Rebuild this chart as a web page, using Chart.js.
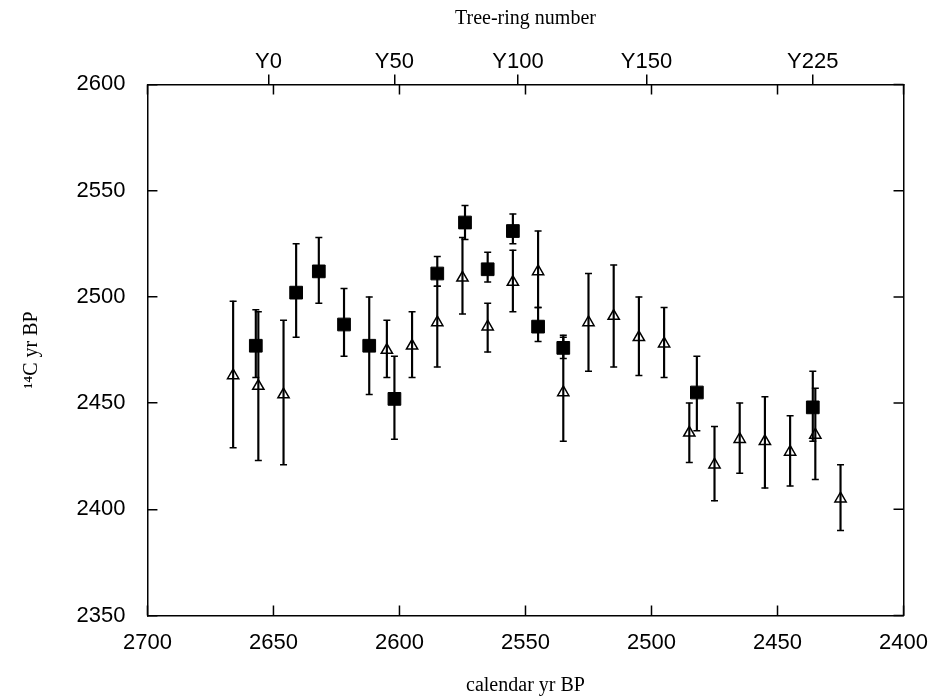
<!DOCTYPE html>
<html>
<head>
<meta charset="utf-8">
<script src="https://cdn.jsdelivr.net/npm/chart.js@4.4.1/dist/chart.umd.min.js"></script>
<style>
  html, body { margin: 0; padding: 0; background: #fff; }
  #wrap { width: 930px; height: 698px; }
</style>
</head>
<body>
<div id="wrap"><canvas id="c14Chart"></canvas></div>
<script>
// filled squares
const squareYears = [2657, 2641, 2632, 2622, 2612, 2602, 2585, 2574, 2565, 2555, 2545, 2535, 2482, 2436];
const squareC14   = [2477, 2502, 2512, 2487, 2477, 2452, 2511, 2535, 2513, 2531, 2486, 2476, 2455, 2448];
const squareLow   = [2462, 2481, 2497, 2472, 2454, 2433, 2505, 2527, 2507, 2525, 2479, 2471, 2437, 2432];
const squareHigh  = [2494, 2525, 2528, 2504, 2500, 2472, 2519, 2543, 2521, 2539, 2495, 2482, 2472, 2465];

// open triangles
const triYears = [2666, 2656, 2646, 2605, 2595, 2585, 2575, 2565, 2555, 2545, 2535, 2525, 2515, 2505, 2495, 2485, 2475, 2465, 2455, 2445, 2435, 2425];
const triC14   = [2463, 2458, 2454, 2475, 2477, 2488, 2509, 2486, 2507, 2512, 2455, 2488, 2491, 2481, 2478, 2436, 2421, 2433, 2432, 2427, 2435, 2405];
const triLow   = [2429, 2423, 2421, 2462, 2462, 2467, 2492, 2474, 2493, 2495, 2432, 2465, 2467, 2463, 2462, 2422, 2404, 2417, 2410, 2411, 2414, 2390];
const triHigh  = [2498, 2493, 2489, 2489, 2493, 2505, 2528, 2497, 2522, 2531, 2481, 2511, 2515, 2500, 2495, 2450, 2439, 2450, 2453, 2444, 2457, 2421];

// top axis: tree-ring numbers and where they sit on the calendar scale
const treeRingLabels = ['Y0', 'Y50', 'Y100', 'Y150', 'Y225'];
const treeRingYears  = [2652, 2602, 2553, 2502, 2436];

const sansFont = { family: '"Liberation Sans", Arial, sans-serif', size: 22 };
const serifFont = { family: '"Liberation Serif", "Times New Roman", serif', size: 20 };

function errorBars(years, low, high) {
  return years.map((x, i) => ({ x: x, y: [low[i], high[i]] }));
}
function errorCaps(years, low, high) {
  return years.flatMap((x, i) => [{ x: x, y: low[i] }, { x: x, y: high[i] }]);
}
function points(years, vals) {
  return years.map((x, i) => ({ x: x, y: vals[i] }));
}

// inward tick marks on the bottom, top and right frame edges
const innerTicks = {
  id: 'innerTicks',
  afterDraw(chart) {
    const ctx = chart.ctx;
    const area = chart.chartArea;
    const xs = chart.scales.x, ys = chart.scales.y;
    ctx.save();
    ctx.strokeStyle = '#000';
    ctx.lineWidth = 1.5;
    ctx.beginPath();
    xs.ticks.forEach(t => {
      const px = xs.getPixelForValue(t.value);
      ctx.moveTo(px, area.top);
      ctx.lineTo(px, area.top + 10);
      ctx.moveTo(px, area.bottom);
      ctx.lineTo(px, area.bottom - 10);
    });
    ys.ticks.forEach(t => {
      const py = ys.getPixelForValue(t.value);
      ctx.moveTo(area.right, py);
      ctx.lineTo(area.right - 10, py);
    });
    ctx.stroke();
    ctx.restore();
  }
};

new Chart(document.getElementById('c14Chart').getContext('2d'), {
  type: 'scatter',
  data: {
    datasets: [
      {
        type: 'scatter',
        data: points(squareYears, squareC14),
        pointStyle: 'rect',
        pointRadius: 9,
        backgroundColor: '#000',
        borderColor: '#000',
        borderWidth: 1,
        order: 0
      },
      {
        type: 'scatter',
        data: points(triYears, triC14),
        pointStyle: 'triangle',
        pointRadius: 6.5,
        backgroundColor: 'rgba(0,0,0,0)',
        borderColor: '#000',
        borderWidth: 1.5,
        order: 1
      },
      {
        type: 'scatter',
        data: errorCaps(squareYears, squareLow, squareHigh).concat(errorCaps(triYears, triLow, triHigh)),
        pointStyle: 'line',
        pointRadius: 3.5,
        borderColor: '#000',
        borderWidth: 1.5,
        order: 2
      },
      {
        type: 'bar',
        data: errorBars(squareYears, squareLow, squareHigh),
        backgroundColor: '#000',
        barThickness: 1.5,
        grouped: false,
        order: 3
      },
      {
        type: 'bar',
        data: errorBars(triYears, triLow, triHigh),
        backgroundColor: '#000',
        barThickness: 1.5,
        grouped: false,
        order: 3
      }
    ]
  },
  options: {
    responsive: true,
    maintainAspectRatio: false,
    animation: false,
    layout: { padding: { left: 16, right: 6, top: 0, bottom: 0 } },
    plugins: {
      legend: { display: false },
      tooltip: { enabled: false }
    },
    scales: {
      x: {
        type: 'linear',
        position: 'bottom',
        reverse: true,
        min: 2400,
        max: 2700,
        offset: false,
        border: { display: true, color: '#000', width: 1.5 },
        // outward marks hidden; the inner ones come from innerTicks
        grid: { offset: false, drawOnChartArea: false, drawTicks: true, tickLength: 12, tickColor: 'rgba(0,0,0,0)' },
        ticks: { stepSize: 50, color: '#000', font: sansFont, padding: 2, maxRotation: 0, callback: v => String(v) },
        title: { display: true, text: 'calendar yr BP', color: '#000', font: serifFont, padding: { top: 16, bottom: 0 } }
      },
      ring: {
        type: 'linear',
        position: 'top',
        reverse: true,
        min: 2400,
        max: 2700,
        offset: false,
        afterBuildTicks: scale => { scale.ticks = treeRingYears.map(v => ({ value: v })); },
        border: { display: true, color: '#000', width: 1.5 },
        grid: { offset: false, drawOnChartArea: false, drawTicks: true, tickLength: 10, color: '#000', lineWidth: 1.5 },
        ticks: { color: '#000', font: sansFont, padding: -1, maxRotation: 0, autoSkip: false, callback: (v, i) => treeRingLabels[i] },
        title: { display: true, text: 'Tree-ring number', color: '#000', font: serifFont, padding: { top: 7, bottom: 19 } }
      },
      y: {
        type: 'linear',
        position: 'left',
        min: 2350,
        max: 2600,
        border: { display: true, color: '#000', width: 1.5 },
        grid: { offset: false, drawOnChartArea: false, drawTicks: true, tickLength: -10, color: '#000', lineWidth: 1.5 },
        ticks: { stepSize: 50, color: '#000', font: sansFont, padding: 32, callback: v => String(v) },
        title: { display: true, text: '¹⁴C yr BP', color: '#000', font: serifFont, padding: { top: 4, bottom: 0.5 } }
      },
      y2: {
        type: 'linear',
        position: 'right',
        min: 2350,
        max: 2600,
        border: { display: true, color: '#000', width: 1.5 },
        grid: { offset: false, drawOnChartArea: false, drawTicks: false },
        ticks: { display: false }
      }
    }
  },
  plugins: [innerTicks]
});
</script>
</body>
</html>
